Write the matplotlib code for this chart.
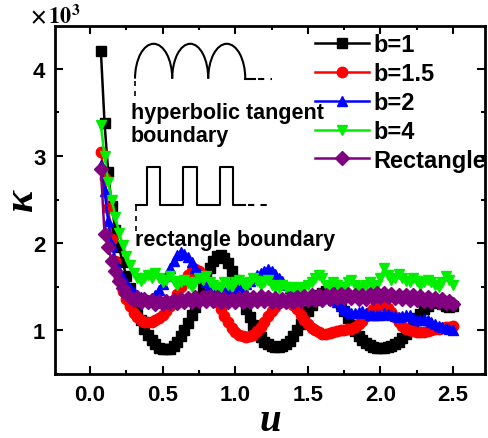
import matplotlib
matplotlib.use("Agg")
import matplotlib.pyplot as plt
import numpy as np
from matplotlib.patches import Arc
from matplotlib.ticker import MultipleLocator

plt.rcParams['font.family'] = ['Liberation Sans', 'DejaVu Sans']
plt.rcParams['font.weight'] = 'bold'
plt.rcParams['mathtext.fontset'] = 'stix'

# u axis, step 0.025 from 0.075 to 2.5
u = np.arange(98) * 0.025 + 0.075

# kappa values in units of 10^3
k_b1 = [4.2, 3.38, 2.82, 2.42,
        2.15, 1.95, 1.78, 1.62,
        1.48, 1.35, 1.22, 1.12,
        1.02, 0.95, 0.89, 0.84,
        0.8, 0.78, 0.78, 0.79,
        0.82, 0.87, 0.93, 1.0,
        1.08, 1.17, 1.27, 1.38,
        1.5, 1.62, 1.72, 1.8,
        1.85, 1.86, 1.83, 1.77,
        1.68, 1.58, 1.47, 1.36,
        1.25, 1.15, 1.06, 0.98,
        0.92, 0.87, 0.84, 0.82,
        0.81, 0.81, 0.82, 0.84,
        0.88, 0.93, 1.0, 1.07,
        1.15, 1.22, 1.29, 1.35,
        1.4, 1.43, 1.45, 1.45,
        1.42, 1.37, 1.3, 1.22,
        1.14, 1.06, 0.99, 0.93,
        0.89, 0.85, 0.83, 0.81,
        0.8, 0.8, 0.8, 0.81,
        0.82, 0.84, 0.87, 0.91,
        0.96, 1.02, 1.08, 1.14,
        1.19, 1.24, 1.28, 1.31,
        1.32, 1.32, 1.3, 1.28,
        1.27, 1.28]

k_b15 = [3.05, 2.75, 2.4, 2.05,
         1.8, 1.6, 1.45, 1.36,
         1.28, 1.2, 1.15, 1.12,
         1.1, 1.09, 1.1, 1.12,
         1.14, 1.17, 1.22, 1.28,
         1.35, 1.42, 1.5, 1.57,
         1.63, 1.68, 1.7, 1.68,
         1.63, 1.56, 1.48, 1.4,
         1.32, 1.24, 1.16, 1.09,
         1.03, 0.98, 0.95, 0.93,
         0.92, 0.93, 0.95, 0.99,
         1.04, 1.1, 1.16, 1.22,
         1.27, 1.31, 1.34, 1.35,
         1.33, 1.29, 1.24, 1.18,
         1.12, 1.07, 1.03, 1.0,
         0.98, 0.96, 0.96, 0.97,
         0.98, 0.99, 1.0, 1.0,
         1.01, 1.02, 1.04, 1.07,
         1.11, 1.16, 1.21, 1.25,
         1.28, 1.3, 1.29, 1.26,
         1.21, 1.15, 1.1, 1.05,
         1.02, 1.0, 0.99, 0.98,
         0.98, 0.98, 0.99, 1.0,
         1.01, 1.02, 1.03, 1.04,
         1.04, 1.05]

k_b2 = [2.9, 2.6, 2.25, 1.98,
        1.8, 1.68, 1.6, 1.54,
        1.48, 1.44, 1.4, 1.38,
        1.36, 1.35, 1.36, 1.4,
        1.46, 1.53, 1.62, 1.72,
        1.8, 1.86, 1.9, 1.88,
        1.84, 1.78, 1.72, 1.66,
        1.6, 1.55, 1.52, 1.5,
        1.48, 1.47, 1.46, 1.45,
        1.45, 1.46, 1.48, 1.5,
        1.53, 1.56, 1.6, 1.63,
        1.66, 1.68, 1.7, 1.68,
        1.65, 1.6, 1.56, 1.52,
        1.48, 1.45, 1.42, 1.4,
        1.38, 1.37, 1.36, 1.36,
        1.36, 1.37, 1.38, 1.37,
        1.35, 1.32, 1.28, 1.24,
        1.22, 1.2, 1.2, 1.21,
        1.22, 1.2, 1.18, 1.17,
        1.17, 1.18, 1.2, 1.19,
        1.17, 1.16, 1.15, 1.16,
        1.18, 1.17, 1.14, 1.12,
        1.12, 1.13, 1.12, 1.1,
        1.07, 1.05, 1.04, 1.03,
        1.02, 1.0]

k_b4 = [3.35, 3.0, 2.7, 2.5,
        2.3, 2.12, 1.98, 1.85,
        1.75, 1.66, 1.6, 1.56,
        1.6, 1.64, 1.6, 1.66,
        1.6, 1.55, 1.58, 1.62,
        1.56, 1.52, 1.55, 1.58,
        1.54, 1.5, 1.55, 1.6,
        1.58, 1.62, 1.55, 1.52,
        1.48, 1.5, 1.55, 1.52,
        1.5, 1.55, 1.58, 1.54,
        1.5, 1.55, 1.6, 1.56,
        1.52, 1.55, 1.58, 1.52,
        1.5, 1.48, 1.52, 1.5,
        1.47, 1.5, 1.45, 1.48,
        1.5, 1.52, 1.55, 1.6,
        1.64, 1.6, 1.52, 1.5,
        1.55, 1.52, 1.48, 1.5,
        1.55, 1.58, 1.52, 1.5,
        1.48, 1.52, 1.55, 1.5,
        1.52, 1.6, 1.72, 1.64,
        1.58, 1.6, 1.65, 1.6,
        1.56, 1.55, 1.6, 1.56,
        1.52, 1.55, 1.58, 1.55,
        1.52, 1.5, 1.55, 1.62,
        1.58, 1.52]

k_rect = [2.85, 2.1, 1.95, 1.8,
          1.68, 1.56, 1.48, 1.42,
          1.38, 1.35, 1.38, 1.33,
          1.36, 1.32, 1.35, 1.3,
          1.34, 1.3, 1.34, 1.31,
          1.35, 1.31, 1.36, 1.32,
          1.37, 1.33, 1.38, 1.34,
          1.38, 1.34, 1.39, 1.34,
          1.38, 1.33, 1.37, 1.32,
          1.36, 1.32, 1.37, 1.33,
          1.38, 1.33, 1.38, 1.34,
          1.39, 1.34, 1.38, 1.33,
          1.37, 1.32, 1.36, 1.32,
          1.37, 1.33, 1.38, 1.34,
          1.39, 1.35, 1.4, 1.35,
          1.4, 1.35, 1.41, 1.36,
          1.42, 1.37, 1.42, 1.37,
          1.42, 1.37, 1.41, 1.36,
          1.41, 1.36, 1.42, 1.37,
          1.43, 1.38, 1.43, 1.38,
          1.42, 1.37, 1.41, 1.36,
          1.4, 1.35, 1.4, 1.35,
          1.39, 1.34, 1.38, 1.33,
          1.37, 1.32, 1.36, 1.31,
          1.34, 1.3]

labels = ['b=1', 'b=1.5', 'b=2', 'b=4', 'Rectangle']
colors = ['black', 'red', 'blue', '#00ee00', 'purple']
markers = ['s', 'o', '^', 'v', 'D']
series = [k_b1, k_b15, k_b2, k_b4, k_rect]

fig = plt.figure(figsize=(4.88, 4.39), dpi=100)
ax = fig.add_axes([0.113, 0.146, 0.881, 0.7925])

for ys, c, m, lab in zip(series, colors, markers, labels):
    ax.plot(u, ys, color=c, marker=m, markersize=7.5, lw=1.8, label=lab)

ax.set_xlim(-0.24, 2.72)
ax.set_ylim(0.5, 4.49)
ax.xaxis.set_major_locator(MultipleLocator(0.5))
ax.xaxis.set_minor_locator(MultipleLocator(0.25))
ax.yaxis.set_major_locator(MultipleLocator(1))
ax.yaxis.set_minor_locator(MultipleLocator(0.5))
ax.tick_params(which='both', direction='in', top=True, right=True, width=1.5)
ax.tick_params(which='major', length=6, labelsize=16, pad=7)
ax.tick_params(which='minor', length=3)
ax.xaxis.set_major_formatter(matplotlib.ticker.FormatStrFormatter('%.1f'))
for sp in ax.spines.values():
    sp.set_linewidth(2)

ax.set_xlabel('u', family='Liberation Serif', style='italic', weight='bold',
              fontsize=28, va='baseline')
ax.xaxis.set_label_coords(0.5, -0.16)
ax.set_ylabel('κ', family='Liberation Serif', style='italic', weight='bold',
              fontsize=30, va='center')
ax.yaxis.set_label_coords(-0.077, 0.5)
fig.text(30 / 488, 1 - 16 / 439, r'$\times\,10^{3}$', fontsize=16,
         ha='left', va='center')

leg = ax.legend(loc='upper right', bbox_to_anchor=(1.02, 1.0), frameon=False,
                fontsize=17, handlelength=2.3, handletextpad=0.2,
                labelspacing=0.25, borderaxespad=0.1, borderpad=0.2)

# inset sketch: hyperbolic tangent boundary
arch_x = [0.31, 0.566, 0.814, 1.069]
for a, b in zip(arch_x[:-1], arch_x[1:]):
    ax.add_patch(Arc(((a + b) / 2, 3.886), b - a, 0.8, theta1=0, theta2=180,
                     color='black', lw=1.5))
ax.plot([1.069, 1.138], [3.886, 3.886], color='black', lw=1.5)
ax.plot([1.16, 1.25], [3.886, 3.886], color='black', lw=1.5, ls=(0, (3, 3)))
ax.plot([0.31, 0.31], [3.86, 3.66], color='black', lw=1.2, ls=(0, (3, 3)))

# inset sketch: rectangle boundary
rx = [0.317, 0.393, 0.393, 0.483, 0.483, 0.641, 0.641, 0.738, 0.738,
      0.897, 0.897, 0.986, 0.986, 1.069]
ry = [2.434, 2.434, 2.869, 2.869, 2.434, 2.434, 2.869, 2.869, 2.434,
      2.434, 2.869, 2.869, 2.434, 2.434]
ax.plot(rx, ry, color='black', lw=1.5)
ax.plot([1.09, 1.25], [2.434, 2.434], color='black', lw=1.5, ls=(0, (3, 3)))
ax.plot([0.317, 0.317], [2.42, 2.12], color='black', lw=1.2, ls=(0, (3, 3)))

ax.text(0.28, 3.62, 'hyperbolic tangent\nboundary', fontsize=15.5,
        ha='left', va='top', linespacing=1.15)
ax.text(0.31, 2.045, 'rectangle boundary', fontsize=15.5, ha='left', va='center')

fig.savefig('out.png', dpi=100)
